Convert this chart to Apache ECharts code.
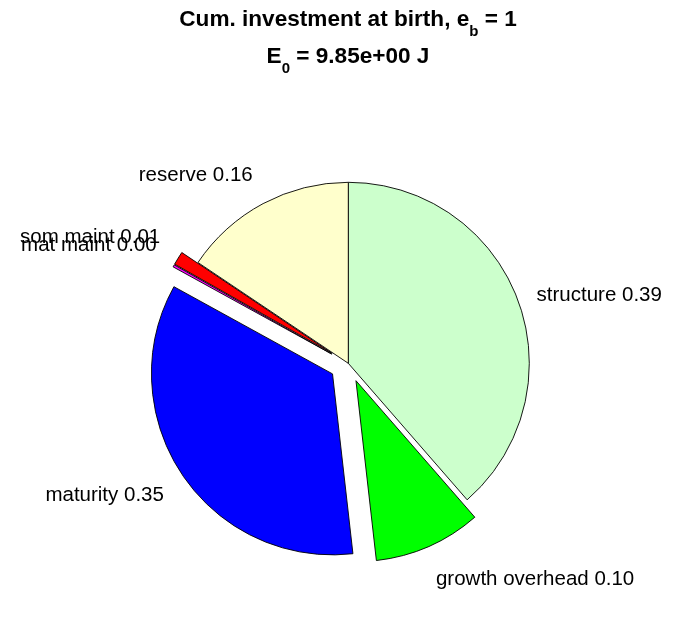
<!DOCTYPE html>
<html>
<head>
<meta charset="utf-8">
<script src="https://cdn.jsdelivr.net/npm/echarts@6/dist/echarts.min.js"></script>
<style>
html,body{margin:0;padding:0;background:#fff;}
#chart{width:696px;height:618px;}
</style>
</head>
<body>
<div id="chart"></div>
<script>
// ---- data ----
const categories = ['structure', 'growth overhead', 'maturity', 'mat maint', 'som maint', 'reserve'];
const fractions = [0.386, 0.096, 0.348, 0.002, 0.012, 0.156];
const exploded = [false, true, true, true, true, false];
const titleLine1 = ['Cum. investment at birth, e', 'b', ' = 1'];
const titleLine2 = ['E', '0', ' = 9.85e+00 J'];

// ---- styles ----
const colors = ['#ccffcc', '#00ff00', '#0000ff', '#ff00ff', '#ff0000', '#ffffcc'];
const labelLen = [20, 17.6, 22, 19.4, 21, 22];
const labelShiftY = [3, 16.6, 8.5, -11.4, -10, -8.4];
const FONT = 'Liberation Sans, Arial, Helvetica, sans-serif';

const pieData = categories.map((name, i) => ({
  name: name,
  value: fractions[i],
  selected: exploded[i],
  itemStyle: { color: colors[i] },
  select: { itemStyle: { color: colors[i] } },
  labelLine: { length: labelLen[i], length2: 0, show: false }
}));

const titleRich = {
  a: { fontSize: 22.6, fontWeight: 'bold', fontFamily: FONT, color: '#000', lineHeight: 37 },
  s: { fontSize: 15, fontWeight: 'bold', fontFamily: FONT, color: '#000', lineHeight: 13, padding: [24, 0, 0, 0] }
};

const chart = echarts.init(document.getElementById('chart'), null, { renderer: 'canvas' });
chart.setOption({
  animation: false,
  backgroundColor: '#ffffff',
  title: [
    {
      left: 'center', top: 1.5, padding: 0,
      text: '{a|' + titleLine1[0] + '}{s|' + titleLine1[1] + '}{a|' + titleLine1[2] + '}',
      textStyle: { rich: titleRich }
    },
    {
      left: 'center', top: 38.5, padding: 0,
      text: '{a|' + titleLine2[0] + '}{s|' + titleLine2[1] + '}{a|' + titleLine2[2] + '}',
      textStyle: { rich: titleRich }
    }
  ],
  series: [{
    type: 'pie',
    center: [348.3, 363.3],
    radius: [0, 181],
    startAngle: 90,
    clockwise: true,
    avoidLabelOverlap: false,
    selectedMode: 'multiple',
    selectedOffset: 19,
    minAngle: 0,
    minShowLabelAngle: 0,
    percentPrecision: 4,
    itemStyle: { borderColor: '#000', borderWidth: 0.9 },
    emphasis: { disabled: true },
    label: {
      show: true,
      position: 'outside',
      distanceToLabelLine: 0,
      fontSize: 20.5,
      fontFamily: FONT,
      color: '#000',
      formatter: p => p.name + ' ' + p.value.toFixed(2)
    },
    labelLine: { show: false, length: 18, length2: 0 },
    labelLayout: p => ({ dy: labelShiftY[p.dataIndex], hideOverlap: false, moveOverlap: null }),
    data: pieData
  }]
});
</script>
</body>
</html>
